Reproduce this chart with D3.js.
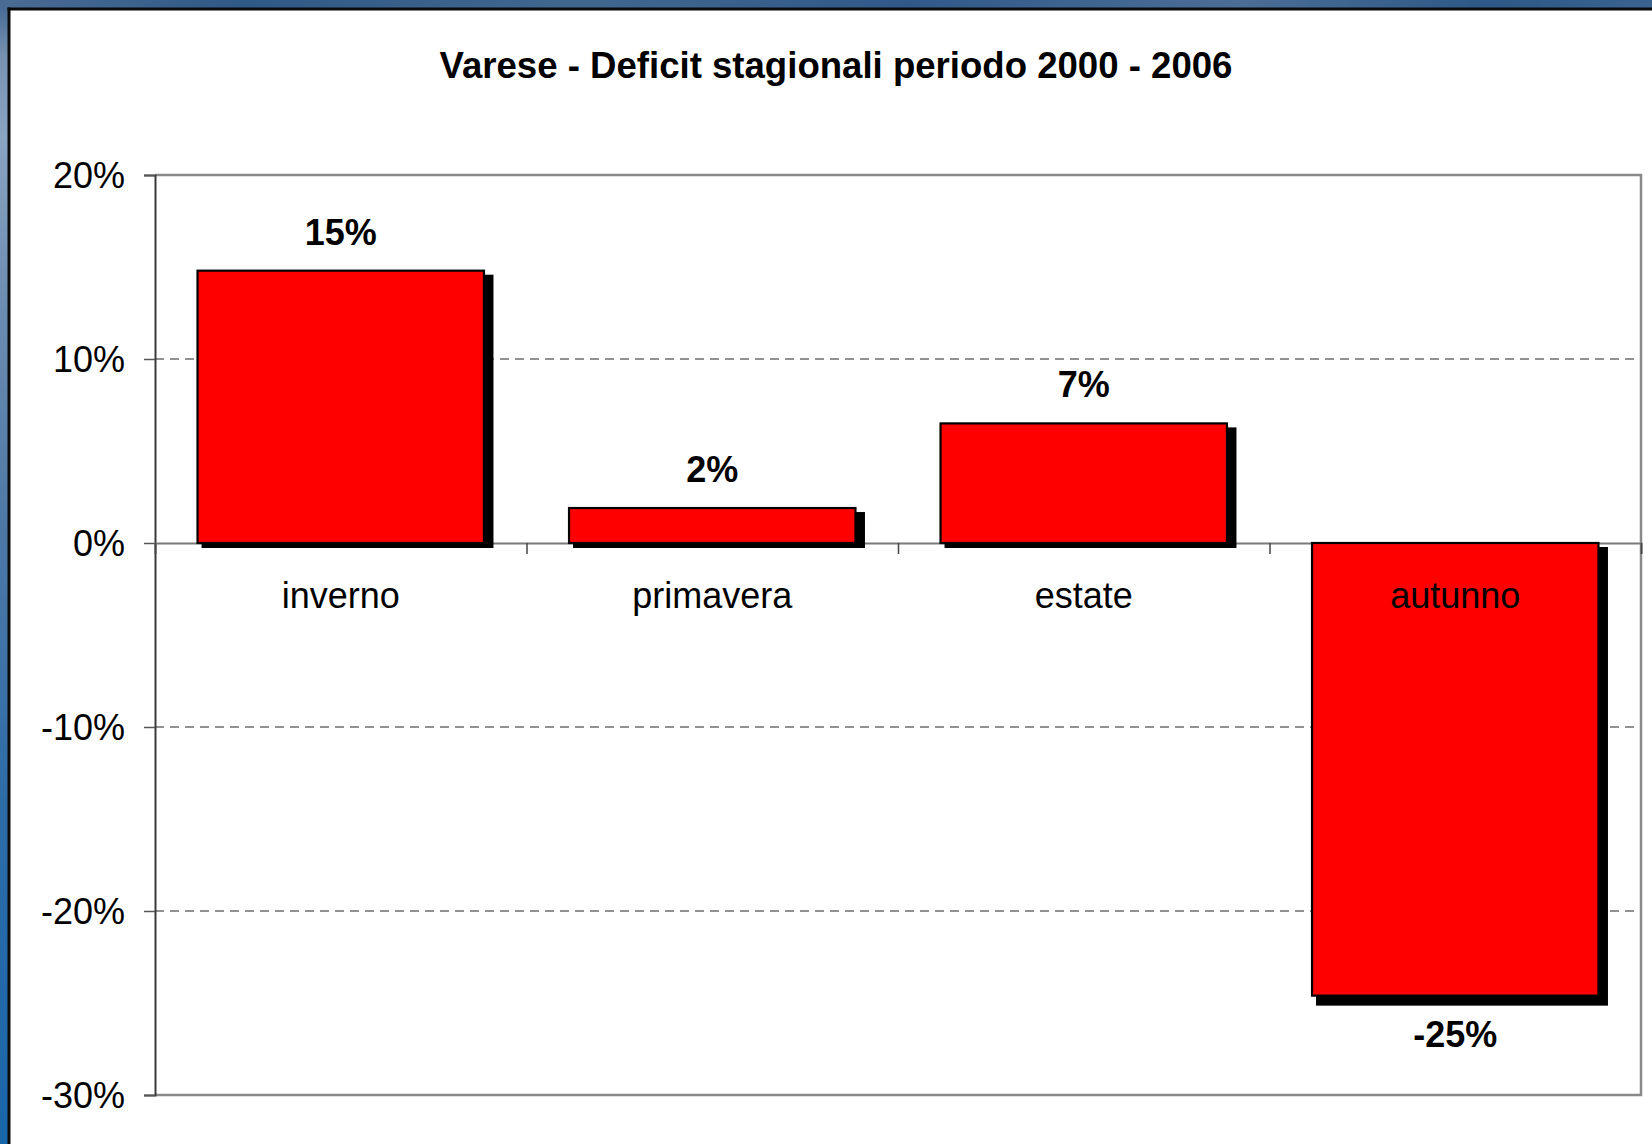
<!DOCTYPE html>
<html>
<head>
<meta charset="utf-8">
<script src="https://cdn.jsdelivr.net/npm/d3@7/dist/d3.min.js"></script>
<style>
  html, body { margin: 0; padding: 0; background: #ffffff; }
  svg { display: block; }
  text { font-family: "Liberation Sans", Arial, sans-serif; fill: #000; }
</style>
</head>
<body>
<script>
// Seasonal deficit, Varese 2000-2006
const titleText = "Varese - Deficit stagionali periodo 2000 - 2006";
const seasons = ["inverno", "primavera", "estate", "autunno"];
const deficit = [0.148, 0.019, 0.065, -0.246];
const yTicks = [0.2, 0.1, 0, -0.1, -0.2, -0.3];
const yTickLabels = ["20%", "10%", "0%", "-10%", "-20%", "-30%"];
const gridValues = [0.1, -0.1, -0.2];

const W = 1652, H = 1144;
const plot = { left: 155, right: 1641, top: 175, bottom: 1095 };

const svg = d3.select("body").append("svg")
  .attr("width", W).attr("height", H);

// window frame: blue gradient strips at top and left, dark edge line
const defs = svg.append("defs");
const gLeft = defs.append("linearGradient").attr("id", "frameLeft")
  .attr("x1", 0).attr("y1", 0).attr("x2", 0).attr("y2", 1);
[[0, "#3f6590"], [0.05, "#7893b2"], [0.12, "#8aa4c2"], [0.25, "#6f8fb3"], [0.45, "#4f79a6"],
 [0.7, "#2e6ca8"], [1, "#1966aa"]].forEach(([o, c]) =>
  gLeft.append("stop").attr("offset", o).attr("stop-color", c));
const gTop = defs.append("linearGradient").attr("id", "frameTop")
  .attr("x1", 0).attr("y1", 0).attr("x2", 1).attr("y2", 0);
[[0, "#4a6c94"], [0.15, "#2f5987"], [0.35, "#42678f"], [0.55, "#30598a"], [0.75, "#4b6e96"],
 [0.9, "#2d5887"], [1, "#3a6390"]].forEach(([o, c]) =>
  gTop.append("stop").attr("offset", o).attr("stop-color", c));

svg.append("rect").attr("x", 0).attr("y", 0).attr("width", W).attr("height", H).attr("fill", "#fff");
svg.append("rect").attr("x", 0).attr("y", 0).attr("width", 8).attr("height", H).attr("fill", "url(#frameLeft)");
svg.append("rect").attr("x", 0).attr("y", 0).attr("width", W).attr("height", 8).attr("fill", "url(#frameTop)");
svg.append("rect").attr("x", 7.5).attr("y", 7.5).attr("width", 3).attr("height", H).attr("fill", "#0a0a0a");
svg.append("rect").attr("x", 7.5).attr("y", 7.5).attr("width", W).attr("height", 3).attr("fill", "#0a0a0a");

// scales
const x = d3.scaleBand().domain(seasons)
  .range([plot.left, plot.right])
  .paddingInner(0.229).paddingOuter(0.1145);
const y = d3.scaleLinear().domain([-0.3, 0.2]).range([plot.bottom, plot.top]);
const xEdges = d3.scaleLinear().domain([0, seasons.length]).range([plot.left, plot.right]);

// title
svg.append("text")
  .attr("x", 836).attr("y", 78)
  .attr("text-anchor", "middle")
  .style("font-size", "36.6px").style("font-weight", "bold")
  .text(titleText);

// dashed gridlines
svg.append("g").selectAll("line").data(gridValues).join("line")
  .attr("x1", plot.left).attr("x2", plot.right)
  .attr("y1", d => y(d)).attr("y2", d => y(d))
  .attr("stroke", "#6e6e6e").attr("stroke-width", 1.5)
  .attr("stroke-dasharray", "9,6");

// plot border (top, right, bottom)
svg.append("path")
  .attr("d", `M${plot.left},${plot.top}H${plot.right}V${plot.bottom}H${plot.left}`)
  .attr("fill", "none").attr("stroke", "#8a8a8a").attr("stroke-width", 2.5);

// y axis
const yAxis = svg.append("g")
  .attr("transform", `translate(${plot.left},0)`)
  .call(d3.axisLeft(y).tickValues(yTicks)
    .tickFormat((d, i) => yTickLabels[i])
    .tickSize(11).tickPadding(19));
yAxis.select(".domain").attr("stroke", "#3a3a3a").attr("stroke-width", 2);
yAxis.selectAll(".tick line").attr("stroke", "#555").attr("stroke-width", 1.5);
yAxis.selectAll(".tick text")
  .attr("dy", "0.36em")
  .style("font-family", "'Liberation Sans', Arial, sans-serif")
  .style("font-size", "36px").attr("fill", "#000");

// category axis along zero line, ticks at category edges
const xAxis = svg.append("g")
  .attr("transform", `translate(0,${y(0)})`)
  .call(d3.axisBottom(xEdges).tickValues(d3.range(seasons.length + 1))
    .tickFormat("").tickSize(11));
xAxis.select(".domain").attr("stroke", "#7a7a7a").attr("stroke-width", 2);
xAxis.selectAll(".tick line").attr("stroke", "#444").attr("stroke-width", 1.5);

// bars with drop shadow
const data = seasons.map((s, i) => ({ s, v: deficit[i] }));
const barTop = d => y(Math.max(0, d.v));
const barBot = d => y(Math.min(0, d.v));

svg.append("g").selectAll("rect").data(data).join("rect")
  .attr("x", d => x(d.s) + 4)
  .attr("y", d => barTop(d) + 4)
  .attr("width", x.bandwidth() + 5.5)
  .attr("height", d => barBot(d) - barTop(d) + (d.v < 0 ? 6 : 1))
  .attr("fill", "#000");

svg.append("g").selectAll("rect").data(data).join("rect")
  .attr("x", d => x(d.s))
  .attr("y", d => barTop(d))
  .attr("width", x.bandwidth())
  .attr("height", d => barBot(d) - barTop(d))
  .attr("fill", "#ff0000")
  .attr("stroke", "#000").attr("stroke-width", 2.2);

// category labels
svg.append("g").selectAll("text").data(seasons).join("text")
  .attr("x", d => x(d) + x.bandwidth() / 2)
  .attr("y", y(0) + 65)
  .attr("text-anchor", "middle")
  .style("font-size", "36px")
  .text(d => d);

// value labels
const pct = d3.formatLocale({ decimal: ".", thousands: ",", grouping: [3], currency: ["", ""], minus: "-" }).format(".0%");
svg.append("g").selectAll("text").data(data).join("text")
  .attr("x", d => x(d.s) + x.bandwidth() / 2)
  .attr("y", d => d.v >= 0 ? y(d.v) - 26 : y(d.v) + 51)
  .attr("text-anchor", "middle")
  .style("font-size", "36px").style("font-weight", "bold")
  .text(d => pct(d.v));
</script>
</body>
</html>
